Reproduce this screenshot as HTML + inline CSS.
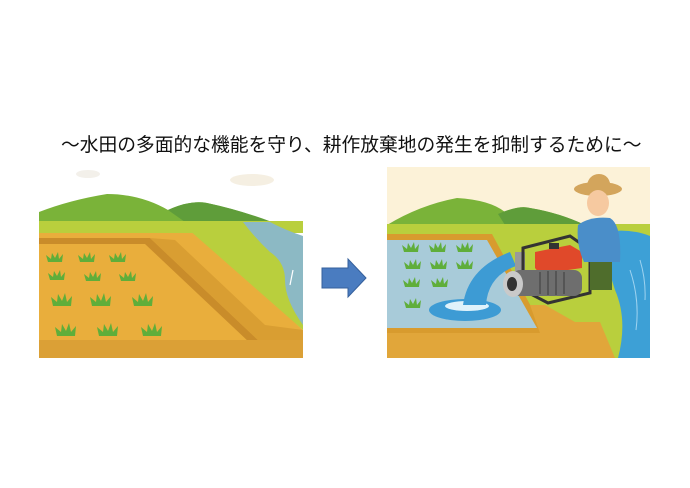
<!DOCTYPE html>
<html><head><meta charset="utf-8"><style>
html,body{margin:0;padding:0;background:#fff;width:690px;height:488px;overflow:hidden}
.t{position:absolute;left:61px;top:133px;font-family:"Liberation Sans","Noto Sans CJK JP",sans-serif;font-size:18.75px;color:#111;white-space:nowrap;line-height:24px}
svg{position:absolute;left:0;top:0}
</style></head><body>
<svg width="690" height="488" viewBox="0 0 690 488">
<defs>
<g id="pl"><path d="M-9,0 L-11,-9 L-5,-4 L-4,-12 L0,-5 L3,-13 L5,-4 L10,-10 L9,0 Z" fill="#5fae3a"/></g>
<g id="ps"><path d="M-7,0 L-9,-7 L-4,-3 L-3,-9 L0,-4 L3,-10 L4,-3 L8,-8 L7,0 Z" fill="#5fae3a"/></g>
</defs>
<ellipse cx="88" cy="174" rx="12" ry="4" fill="#f3f0ea"/>
<ellipse cx="252" cy="180" rx="22" ry="6" fill="#f5efe2"/>
<!-- left picture -->
<path d="M39,212 Q70,200 107,194 Q140,194 168,210 Q190,200 207,203 Q240,210 270,222 L39,222 Z" fill="#7ab339"/>
<path d="M168,210 Q190,200 207,203 Q240,210 272,222 L185,222 Z" fill="#5f9d3a"/>
<rect x="39" y="221" width="264" height="12" fill="#b9cf3d"/>
<path d="M39,233 L200,233 L303,330 L303,358 L39,358 Z" fill="#e9ae3c"/>
<path d="M180,222 L243,222 L303,280 L303,330 Z" fill="#b9cf3d"/>
<path d="M39,238 L150,238 L260,342 L250,343 L145,244 L39,244 Z" fill="#c98c2a"/>
<path d="M150,238 L175,240 L265,325 L303,330 L303,344 L260,342 Z" fill="#d99e32"/>
<rect x="39" y="340" width="264" height="18" fill="#dba036"/>
<path d="M243,222 L270,222 Q285,230 303,236 L303,325 Q285,300 285,280 Q285,262 270,252 Q255,238 243,222 Z" fill="#8cb9c4"/>
<path d="M293,270 L290,285" stroke="#fff" stroke-width="1.2"/>
<use href="#ps" x="55" y="262"/><use href="#ps" x="87" y="262"/><use href="#ps" x="118" y="262"/>
<use href="#ps" x="57" y="280"/><use href="#ps" x="93" y="281"/><use href="#ps" x="128" y="281"/>
<use href="#pl" x="62" y="306"/><use href="#pl" x="101" y="306"/><use href="#pl" x="143" y="306"/>
<use href="#pl" x="66" y="336"/><use href="#pl" x="108" y="336"/><use href="#pl" x="152" y="336"/>
<!-- arrow -->
<path d="M322,268 L348,268 L348,259 L366,278 L348,297 L348,288 L322,288 Z" fill="#4a7cc0" stroke="#35609c" stroke-width="1"/>
<!-- right picture -->
<rect x="387" y="167" width="263" height="191" fill="#fcf2d8"/>
<path d="M387,225 Q420,205 457,198 Q490,200 505,212 Q520,205 530,208 Q560,213 585,225 Z" fill="#7ab339"/>
<path d="M498,214 Q518,205 530,208 Q560,213 585,225 L505,225 Z" fill="#5f9d3a"/>
<rect x="387" y="224" width="263" height="134" fill="#b9cf3d"/>
<path d="M387,234 L492,234 L548,338 L387,338 Z" fill="#d89b2e"/>
<path d="M387,240 L487,240 L537,328 L387,328 Z" fill="#a8cbd9"/>
<path d="M387,333 L540,333 L530,305 L545,305 L575,322 L600,322 L615,358 L387,358 Z" fill="#e1a63a"/>
<path d="M605,232 Q630,228 650,236 L650,358 L618,358 Q628,320 615,290 Q605,260 605,232 Z" fill="#3da0d6"/>
<path d="M630,270 Q640,300 636,330 M640,260 Q646,280 645,300" stroke="#9fd3f0" stroke-width="1" fill="none"/>
<use href="#ps" x="411" y="252"/><use href="#ps" x="438" y="252"/><use href="#ps" x="465" y="252"/>
<use href="#ps" x="413" y="269"/><use href="#ps" x="439" y="269"/><use href="#ps" x="465" y="269"/>
<use href="#ps" x="412" y="287"/><use href="#ps" x="440" y="287"/>
<use href="#ps" x="413" y="308"/>
<!-- water jet -->
<ellipse cx="465" cy="310" rx="36" ry="11" fill="#3d9bd4"/>
<ellipse cx="467" cy="306" rx="22" ry="5" fill="#dff2fb"/>
<path d="M463,305 Q468,268 510,252 L516,266 Q488,276 486,305 Z" fill="#3d9bd4"/>
<!-- pump -->
<rect x="515" y="252" width="10" height="24" fill="#9a9a9a"/>
<path d="M523,248 L570,236 L590,250 L590,293 L548,303 L523,290 Z" fill="none" stroke="#333" stroke-width="3"/>
<path d="M535,252 L570,245 L582,252 L582,268 L540,274 L535,268 Z" fill="#e0492a"/>
<rect x="549" y="243" width="10" height="6" fill="#333"/>
<rect x="512" y="270" width="70" height="26" rx="8" fill="#6e6e6e"/>
<path d="M540,272 v22 M548,271 v24 M556,271 v24 M564,272 v22" stroke="#555" stroke-width="2"/>
<ellipse cx="513" cy="284" rx="10" ry="13" fill="#c9c9c9"/>
<ellipse cx="512" cy="284" rx="5" ry="7" fill="#333"/>
<!-- farmer -->
<ellipse cx="598" cy="189" rx="24" ry="7" fill="#d3a55c"/>
<path d="M586,189 Q588,174 599,174 Q610,174 611,189 Z" fill="#d3a55c"/>
<ellipse cx="598" cy="203" rx="11" ry="13" fill="#f6c9a0"/>
<path d="M578,225 Q590,216 610,218 Q622,225 620,262 L584,262 Q576,245 578,225 Z" fill="#4a8ec9"/>
<rect x="590" y="262" width="22" height="28" fill="#4f6d2c"/>
</svg>
<div class="t">～水田の多面的な機能を守り、耕作放棄地の発生を抑制するために～</div>
</body></html>
